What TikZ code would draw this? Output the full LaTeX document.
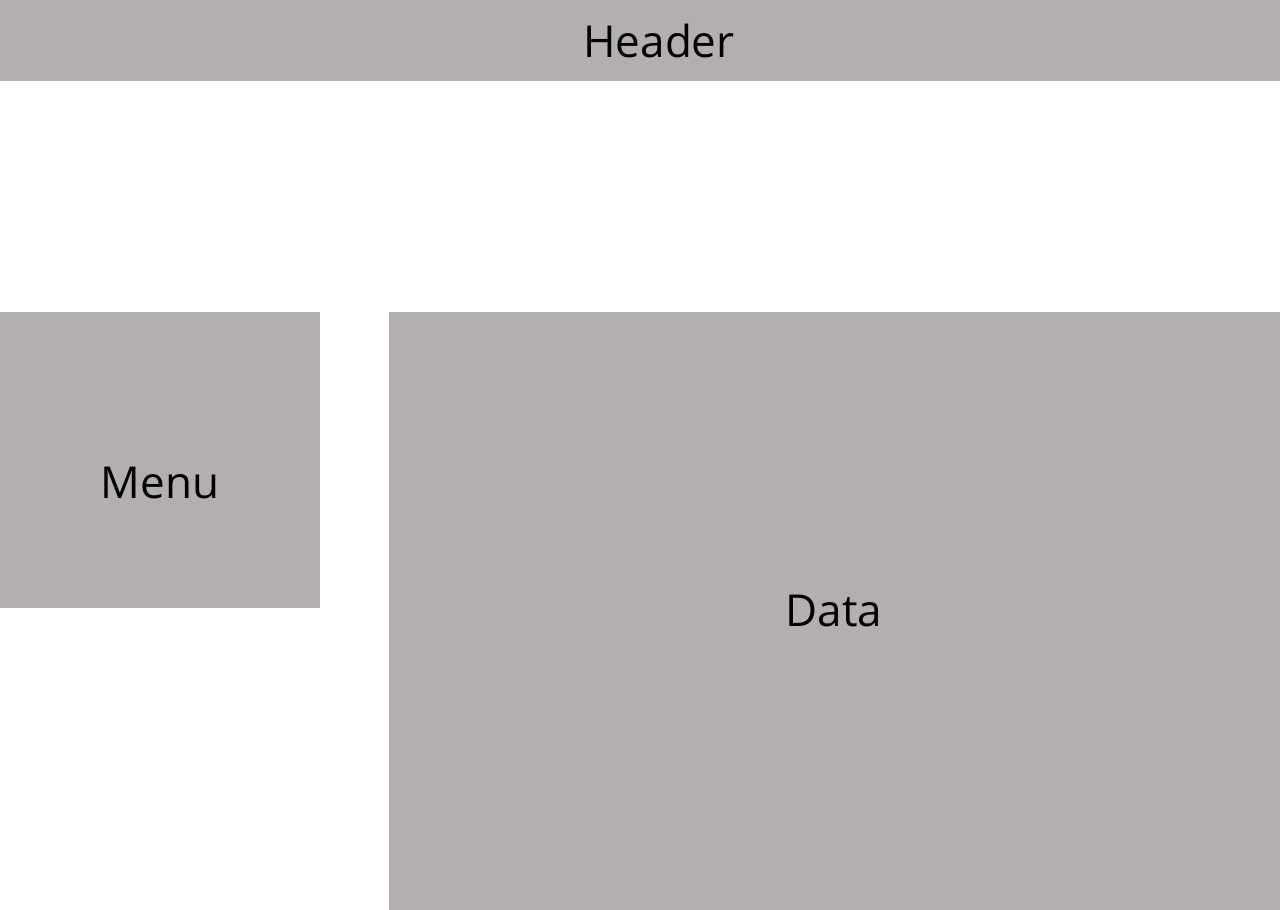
\documentclass[tikz,border=0pt]{standalone}
\usepackage{fontspec}
\setmainfont{Open Sans}
\definecolor{boxgray}{RGB}{180,175,175}
\begin{document}
\begin{tikzpicture}[x=1pt,y=-1pt,
  area/.style={fill=boxgray,draw=none},
  lbl/.style={font=\fontsize{44}{52}\selectfont,inner sep=0pt,text=black}]
\useasboundingbox (0,0) rectangle (1280,910);
\fill[white] (0,0) rectangle (1280,910);
\fill[area] (0,0) rectangle (1280,81);
\fill[area] (0,312) rectangle (320,608);
\fill[area] (389,312) rectangle (1280,910);
\node[lbl] (header) at (659,41) {Header};
\node[lbl] (menu) at (160,483) {Menu};
\node[lbl] (data) at (834,611) {Data};
\end{tikzpicture}
\end{document}
